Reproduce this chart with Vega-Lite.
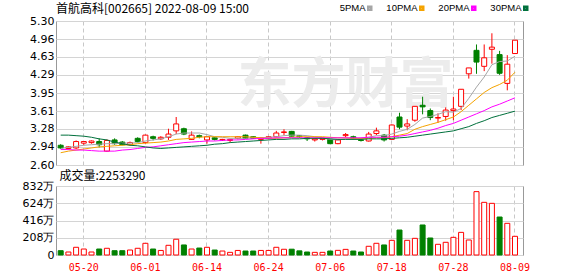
{
  "$schema": "https://vega.github.io/schema/vega-lite/v6.json",
  "background": "#ffffff",
  "padding": {"left": 21, "top": 2, "right": 0, "bottom": 0},
  "bounds": "flush",
  "spacing": 21,
  "config": {
    "view": {"stroke": "#999999", "strokeWidth": 1},
    "axis": {"domain": false, "ticks": false, "title": null, "labelFont": "DejaVu Sans", "labelFontSize": 11, "labelColor": "#000000", "gridColor": "#d4d4d4", "gridWidth": 1, "labelPadding": 2}
  },
  "datasets": {
    "k": [
      {"date":"05-17","open":2.97,"high":2.99,"low":2.90,"close":2.92,"volume":520000,"change":"down","5PMA":2.91,"10PMA":2.83,"20PMA":2.89,"30PMA":3.16},
      {"date":"05-18","open":2.91,"high":2.95,"low":2.89,"close":2.94,"volume":360000,"change":"up","5PMA":2.93,"10PMA":2.86,"20PMA":2.89,"30PMA":3.16},
      {"date":"05-19","open":2.92,"high":3.06,"low":2.90,"close":3.04,"volume":930000,"change":"up","5PMA":2.95,"10PMA":2.88,"20PMA":2.88,"30PMA":3.15},
      {"date":"05-20","open":3.01,"high":3.05,"low":2.97,"close":3.04,"volume":720000,"change":"up","5PMA":2.97,"10PMA":2.90,"20PMA":2.88,"30PMA":3.14},
      {"date":"05-23","open":3.02,"high":3.06,"low":3.00,"close":3.05,"volume":360000,"change":"up","5PMA":2.98,"10PMA":2.92,"20PMA":2.87,"30PMA":3.12},
      {"date":"05-24","open":3.04,"high":3.10,"low":2.93,"close":2.98,"volume":720000,"change":"down","5PMA":2.99,"10PMA":2.94,"20PMA":2.86,"30PMA":3.09},
      {"date":"05-25","open":2.86,"high":3.08,"low":2.85,"close":3.06,"volume":810000,"change":"up","5PMA":3.00,"10PMA":2.95,"20PMA":2.86,"30PMA":3.07},
      {"date":"05-26","open":3.07,"high":3.10,"low":2.98,"close":3.00,"volume":520000,"change":"down","5PMA":3.00,"10PMA":2.96,"20PMA":2.86,"30PMA":3.03},
      {"date":"05-27","open":3.03,"high":3.05,"low":2.97,"close":2.98,"volume":520000,"change":"down","5PMA":3.01,"10PMA":2.97,"20PMA":2.88,"30PMA":3.00},
      {"date":"05-30","open":2.98,"high":3.04,"low":2.97,"close":3.02,"volume":600000,"change":"up","5PMA":3.01,"10PMA":2.98,"20PMA":2.89,"30PMA":2.97},
      {"date":"05-31","open":3.10,"high":3.12,"low":3.02,"close":3.04,"volume":810000,"change":"up","5PMA":3.02,"10PMA":3.00,"20PMA":2.91,"30PMA":2.96},
      {"date":"06-01","open":3.02,"high":3.17,"low":3.00,"close":3.16,"volume":1410000,"change":"up","5PMA":3.05,"10PMA":3.01,"20PMA":2.93,"30PMA":2.94},
      {"date":"06-02","open":3.13,"high":3.15,"low":3.06,"close":3.10,"volume":720000,"change":"down","5PMA":3.07,"10PMA":3.02,"20PMA":2.94,"30PMA":2.92},
      {"date":"06-06","open":3.09,"high":3.14,"low":3.07,"close":3.12,"volume":550000,"change":"up","5PMA":3.09,"10PMA":3.03,"20PMA":2.96,"30PMA":2.91},
      {"date":"06-07","open":3.12,"high":3.28,"low":3.07,"close":3.18,"volume":1170000,"change":"up","5PMA":3.13,"10PMA":3.05,"20PMA":2.98,"30PMA":2.92},
      {"date":"06-08","open":3.24,"high":3.50,"low":3.18,"close":3.37,"volume":1900000,"change":"up","5PMA":3.18,"10PMA":3.08,"20PMA":3.00,"30PMA":2.93},
      {"date":"06-09","open":3.28,"high":3.30,"low":3.16,"close":3.18,"volume":1210000,"change":"down","5PMA":3.20,"10PMA":3.09,"20PMA":3.02,"30PMA":2.94},
      {"date":"06-10","open":3.08,"high":3.23,"low":3.07,"close":3.16,"volume":720000,"change":"up","5PMA":3.20,"10PMA":3.10,"20PMA":3.03,"30PMA":2.95},
      {"date":"06-13","open":3.15,"high":3.17,"low":3.10,"close":3.13,"volume":840000,"change":"down","5PMA":3.20,"10PMA":3.12,"20PMA":3.04,"30PMA":2.96},
      {"date":"06-14","open":3.07,"high":3.14,"low":3.00,"close":3.13,"volume":930000,"change":"up","5PMA":3.17,"10PMA":3.13,"20PMA":3.05,"30PMA":2.97},
      {"date":"06-15","open":3.11,"high":3.12,"low":3.06,"close":3.08,"volume":600000,"change":"down","5PMA":3.13,"10PMA":3.13,"20PMA":3.05,"30PMA":2.99},
      {"date":"06-16","open":3.07,"high":3.09,"low":3.05,"close":3.08,"volume":480000,"change":"up","5PMA":3.12,"10PMA":3.13,"20PMA":3.06,"30PMA":3.00},
      {"date":"06-17","open":3.06,"high":3.09,"low":3.03,"close":3.08,"volume":320000,"change":"up","5PMA":3.10,"10PMA":3.13,"20PMA":3.07,"30PMA":3.02},
      {"date":"06-20","open":3.10,"high":3.14,"low":3.08,"close":3.13,"volume":550000,"change":"up","5PMA":3.10,"10PMA":3.13,"20PMA":3.07,"30PMA":3.03},
      {"date":"06-21","open":3.16,"high":3.17,"low":3.09,"close":3.10,"volume":480000,"change":"down","5PMA":3.10,"10PMA":3.13,"20PMA":3.08,"30PMA":3.04},
      {"date":"06-22","open":3.13,"high":3.14,"low":3.09,"close":3.10,"volume":480000,"change":"down","5PMA":3.11,"10PMA":3.12,"20PMA":3.09,"30PMA":3.05},
      {"date":"06-23","open":3.08,"high":3.12,"low":3.00,"close":3.11,"volume":550000,"change":"up","5PMA":3.11,"10PMA":3.11,"20PMA":3.10,"30PMA":3.06},
      {"date":"06-24","open":3.10,"high":3.14,"low":3.08,"close":3.13,"volume":550000,"change":"up","5PMA":3.12,"10PMA":3.10,"20PMA":3.10,"30PMA":3.07},
      {"date":"06-27","open":3.13,"high":3.24,"low":3.12,"close":3.20,"volume":930000,"change":"up","5PMA":3.13,"10PMA":3.10,"20PMA":3.11,"30PMA":3.08},
      {"date":"06-28","open":3.21,"high":3.27,"low":3.16,"close":3.22,"volume":690000,"change":"up","5PMA":3.15,"10PMA":3.11,"20PMA":3.11,"30PMA":3.08},
      {"date":"06-29","open":3.23,"high":3.24,"low":3.13,"close":3.14,"volume":700000,"change":"down","5PMA":3.16,"10PMA":3.12,"20PMA":3.11,"30PMA":3.09},
      {"date":"06-30","open":3.15,"high":3.16,"low":3.11,"close":3.13,"volume":500000,"change":"down","5PMA":3.16,"10PMA":3.13,"20PMA":3.11,"30PMA":3.09},
      {"date":"07-01","open":3.11,"high":3.12,"low":3.05,"close":3.09,"volume":360000,"change":"down","5PMA":3.15,"10PMA":3.13,"20PMA":3.11,"30PMA":3.10},
      {"date":"07-04","open":3.07,"high":3.11,"low":3.04,"close":3.09,"volume":320000,"change":"up","5PMA":3.13,"10PMA":3.13,"20PMA":3.11,"30PMA":3.10},
      {"date":"07-05","open":3.08,"high":3.11,"low":3.06,"close":3.10,"volume":320000,"change":"up","5PMA":3.11,"10PMA":3.13,"20PMA":3.11,"30PMA":3.10},
      {"date":"07-06","open":3.08,"high":3.09,"low":2.99,"close":3.00,"volume":480000,"change":"down","5PMA":3.08,"10PMA":3.12,"20PMA":3.11,"30PMA":3.09},
      {"date":"07-07","open":3.00,"high":3.08,"low":2.99,"close":3.07,"volume":560000,"change":"up","5PMA":3.07,"10PMA":3.11,"20PMA":3.11,"30PMA":3.08},
      {"date":"07-08","open":3.15,"high":3.20,"low":3.12,"close":3.17,"volume":680000,"change":"up","5PMA":3.09,"10PMA":3.11,"20PMA":3.11,"30PMA":3.08},
      {"date":"07-11","open":3.13,"high":3.15,"low":3.07,"close":3.10,"volume":480000,"change":"down","5PMA":3.09,"10PMA":3.10,"20PMA":3.11,"30PMA":3.08},
      {"date":"07-12","open":3.07,"high":3.08,"low":3.04,"close":3.06,"volume":360000,"change":"down","5PMA":3.10,"10PMA":3.10,"20PMA":3.11,"30PMA":3.08},
      {"date":"07-13","open":3.05,"high":3.22,"low":3.04,"close":3.18,"volume":1050000,"change":"up","5PMA":3.12,"10PMA":3.10,"20PMA":3.12,"30PMA":3.09},
      {"date":"07-14","open":3.19,"high":3.30,"low":3.16,"close":3.24,"volume":1410000,"change":"up","5PMA":3.15,"10PMA":3.11,"20PMA":3.12,"30PMA":3.09},
      {"date":"07-15","open":3.16,"high":3.18,"low":3.04,"close":3.07,"volume":1210000,"change":"down","5PMA":3.15,"10PMA":3.11,"20PMA":3.12,"30PMA":3.09},
      {"date":"07-18","open":3.08,"high":3.36,"low":3.07,"close":3.35,"volume":1770000,"change":"up","5PMA":3.18,"10PMA":3.13,"20PMA":3.13,"30PMA":3.10},
      {"date":"07-19","open":3.50,"high":3.58,"low":3.27,"close":3.31,"volume":3010000,"change":"down","5PMA":3.23,"10PMA":3.16,"20PMA":3.14,"30PMA":3.11},
      {"date":"07-20","open":3.33,"high":3.46,"low":3.25,"close":3.37,"volume":1770000,"change":"up","5PMA":3.27,"10PMA":3.19,"20PMA":3.16,"30PMA":3.12},
      {"date":"07-21","open":3.44,"high":3.70,"low":3.41,"close":3.70,"volume":2010000,"change":"up","5PMA":3.36,"10PMA":3.27,"20PMA":3.19,"30PMA":3.14},
      {"date":"07-22","open":3.72,"high":3.88,"low":3.55,"close":3.69,"volume":3620000,"change":"down","5PMA":3.48,"10PMA":3.32,"20PMA":3.22,"30PMA":3.16},
      {"date":"07-25","open":3.62,"high":3.66,"low":3.44,"close":3.49,"volume":2050000,"change":"down","5PMA":3.51,"10PMA":3.36,"20PMA":3.25,"30PMA":3.18},
      {"date":"07-26","open":3.48,"high":3.57,"low":3.39,"close":3.49,"volume":1290000,"change":"up","5PMA":3.55,"10PMA":3.40,"20PMA":3.29,"30PMA":3.20},
      {"date":"07-27","open":3.51,"high":3.68,"low":3.43,"close":3.63,"volume":1530000,"change":"up","5PMA":3.60,"10PMA":3.45,"20PMA":3.34,"30PMA":3.22},
      {"date":"07-28","open":3.62,"high":3.88,"low":3.44,"close":3.65,"volume":2130000,"change":"up","5PMA":3.59,"10PMA":3.50,"20PMA":3.38,"30PMA":3.24},
      {"date":"07-29","open":3.70,"high":4.02,"low":3.63,"close":4.02,"volume":2730000,"change":"up","5PMA":3.66,"10PMA":3.60,"20PMA":3.44,"30PMA":3.28},
      {"date":"08-01","open":4.31,"high":4.42,"low":4.22,"close":4.42,"volume":1810000,"change":"up","5PMA":3.85,"10PMA":3.72,"20PMA":3.50,"30PMA":3.32},
      {"date":"08-02","open":4.75,"high":4.86,"low":4.31,"close":4.53,"volume":7640000,"change":"up","5PMA":4.06,"10PMA":3.84,"20PMA":3.56,"30PMA":3.38},
      {"date":"08-03","open":4.45,"high":4.86,"low":4.36,"close":4.61,"volume":6350000,"change":"up","5PMA":4.25,"10PMA":3.96,"20PMA":3.62,"30PMA":3.43},
      {"date":"08-04","open":4.77,"high":5.07,"low":4.50,"close":4.81,"volume":6230000,"change":"up","5PMA":4.48,"10PMA":4.05,"20PMA":3.69,"30PMA":3.49},
      {"date":"08-05","open":4.67,"high":4.74,"low":4.29,"close":4.32,"volume":4580000,"change":"down","5PMA":4.54,"10PMA":4.11,"20PMA":3.74,"30PMA":3.53},
      {"date":"08-08","open":4.13,"high":4.66,"low":4.00,"close":4.49,"volume":3820000,"change":"up","5PMA":4.55,"10PMA":4.19,"20PMA":3.80,"30PMA":3.57},
      {"date":"08-09","open":4.69,"high":4.94,"low":4.69,"close":4.94,"volume":2253290,"change":"up","5PMA":4.64,"10PMA":4.34,"20PMA":3.86,"30PMA":3.61}
    ]
  },
  "vconcat": [
    {
      "width": 467,
      "height": 144,
      "title": {"text": "首航高科[002665] 2022-08-09 15:00", "anchor": "start", "frame": "group", "offset": -10, "baseline": "alphabetic", "font": "Noto Sans CJK SC", "fontSize": 12, "fontWeight": "normal", "color": "#000000"},
      "data": {"name": "k"},
      "encoding": {
        "x": {"field": "date", "type": "ordinal", "sort": "ascending",
          "scale": {"type": "band", "paddingInner": 0, "paddingOuter": 0.325, "align": 0.17},
          "axis": {"values": ["05-20","06-01","06-14","06-24","07-06","07-18","07-28","08-09"], "labels": false, "grid": true, "gridDash": [4, 3], "gridColor": "#c8c8c8", "bandPosition": 0.5,
            "title": "成交量:2253290", "titleFont": "Noto Sans CJK SC", "titleFontSize": 12, "titleFontWeight": "normal", "titleColor": "#000000", "titleAlign": "left", "titleBaseline": "top", "titleX": 3, "titleY": 5}}
      },
      "layer": [
        {
          "data": {"values": [{"label": "东方财富"}]},
          "mark": {"type": "text", "font": "Noto Sans CJK SC", "fontSize": 54, "fontWeight": "bold", "color": "#ececec", "baseline": "middle", "align": "center"},
          "encoding": {
            "x": {"datum": "07-08", "type": "ordinal", "axis": {"values": ["05-20","06-01","06-14","06-24","07-06","07-18","07-28","08-09"], "labels": false, "grid": true, "gridDash": [4, 3], "gridColor": "#c8c8c8", "bandPosition": 0.5,
              "title": "成交量:2253290", "titleFont": "Noto Sans CJK SC", "titleFontSize": 12, "titleFontWeight": "normal", "titleColor": "#000000", "titleAlign": "left", "titleBaseline": "top", "titleX": 3, "titleY": 5}},
            "y": {"datum": 4.06, "type": "quantitative", "scale": {"domain": [2.6, 5.3], "nice": false, "zero": false},
              "axis": {"values": [2.6, 2.94, 3.28, 3.61, 3.95, 4.29, 4.63, 4.96, 5.3], "format": ".2f", "grid": true, "title": null}},
            "text": {"field": "label"}
          }
        },
        {
          "mark": {"type": "rule", "strokeWidth": 1},
          "encoding": {
            "y": {"field": "low", "type": "quantitative", "scale": {"domain": [2.6, 5.3], "nice": false, "zero": false},
              "axis": {"values": [2.6, 2.94, 3.28, 3.61, 3.95, 4.29, 4.63, 4.96, 5.3], "format": ".2f", "grid": true, "title": null}},
            "y2": {"field": "high"},
            "stroke": {"condition": {"test": "datum.close >= datum.open", "value": "#ff0000"}, "value": "#008000"}
          }
        },
        {
          "mark": {"type": "bar", "size": 5, "strokeWidth": 1},
          "encoding": {
            "y": {"field": "open", "type": "quantitative", "scale": {"domain": [2.6, 5.3], "nice": false, "zero": false},
              "axis": {"values": [2.6, 2.94, 3.28, 3.61, 3.95, 4.29, 4.63, 4.96, 5.3], "format": ".2f", "grid": true, "title": null}},
            "y2": {"field": "close"},
            "fill": {"condition": {"test": "datum.close >= datum.open", "value": "#ffffff"}, "value": "#008000"},
            "stroke": {"condition": {"test": "datum.close >= datum.open", "value": "#ff0000"}, "value": "#008000"}
          }
        },
        {
          "transform": [{"fold": ["5PMA", "10PMA", "20PMA", "30PMA"], "as": ["ma", "value"]}],
          "mark": {"type": "line", "strokeWidth": 1},
          "encoding": {
            "y": {"field": "value", "type": "quantitative", "scale": {"domain": [2.6, 5.3], "nice": false, "zero": false},
              "axis": {"values": [2.6, 2.94, 3.28, 3.61, 3.95, 4.29, 4.63, 4.96, 5.3], "format": ".2f", "grid": true, "title": null}},
            "color": {"field": "ma", "type": "nominal", "scale": {"domain": ["5PMA", "10PMA", "20PMA", "30PMA"], "range": ["#a6a6a6", "#f5a300", "#ff00ff", "#00703c"]},
              "legend": {"orient": "none", "legendX": 309, "legendY": -18, "direction": "horizontal", "title": null, "symbolType": "square", "symbolSize": 9, "symbolStrokeWidth": 2.5, "labelFont": "Liberation Sans", "labelFontSize": 9.5, "labelColor": "#000000", "labelAlign": "right", "labelOffset": -9, "columnPadding": 9, "padding": 0}}
          }
        }
      ]
    },
    {
      "width": 467,
      "height": 69,
      "data": {"name": "k"},
      "mark": {"type": "bar", "size": 5, "strokeWidth": 1},
      "encoding": {
        "x": {"field": "date", "type": "ordinal", "sort": "ascending",
          "scale": {"type": "band", "paddingInner": 0, "paddingOuter": 0.325, "align": 0.17},
          "axis": {"values": ["05-20","06-01","06-14","06-24","07-06","07-18","07-28","08-09"], "labelColor": "#ff0000", "labelFont": "DejaVu Sans Mono", "labelFontSize": 10, "labelPadding": 7, "labelAngle": 0, "labelOverlap": false, "grid": true, "gridDash": [4, 3], "gridColor": "#c8c8c8", "bandPosition": 0.5, "title": null}},
        "y": {"field": "volume", "type": "quantitative", "scale": {"domain": [0, 8320000], "nice": false},
          "axis": {"values": [0, 2080000, 4160000, 6240000, 8320000], "labelExpr": "datum.value == 0 ? '0' : format(datum.value / 10000, 'd') + '万'", "grid": true, "title": null}},
        "fill": {"condition": {"test": "datum.change == 'up'", "value": "#ffffff"}, "value": "#008000"},
        "stroke": {"condition": {"test": "datum.change == 'up'", "value": "#ff0000"}, "value": "#008000"}
      }
    }
  ]
}
